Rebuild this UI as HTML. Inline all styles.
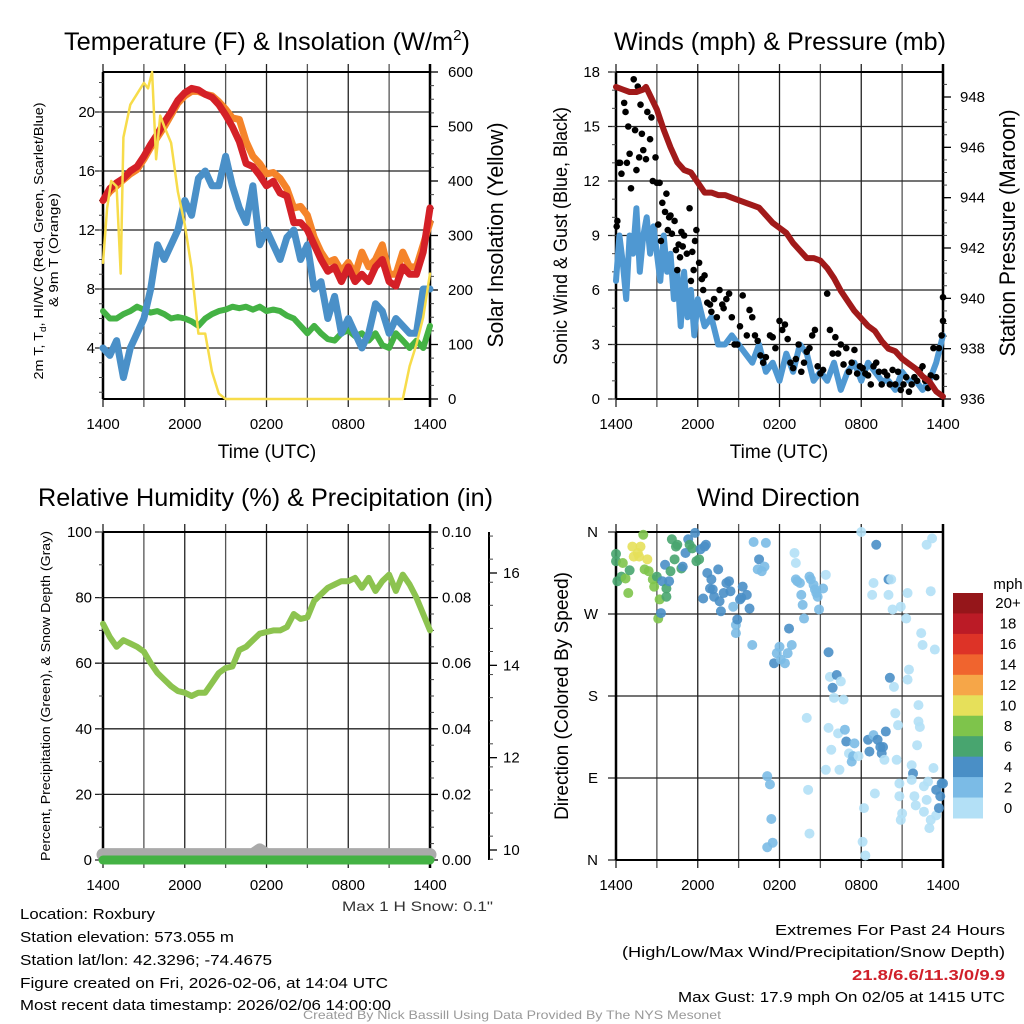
<!DOCTYPE html>
<html><head><meta charset="utf-8"><style>
html,body{margin:0;padding:0;background:#fff;}
svg{display:block;font-family:"Liberation Sans",Arial,sans-serif;}
</style></head><body>
<svg id="fig" width="1024" height="1024" viewBox="0 0 1024 1024" xmlns="http://www.w3.org/2000/svg">
<rect width="1024" height="1024" fill="#fff"/>
<g id="static" fill="#000">
<text x="64" y="50" font-size="25" textLength="406" lengthAdjust="spacingAndGlyphs">Temperature (F) &amp; Insolation (W/m<tspan font-size="15" dy="-10">2</tspan><tspan dy="10">)</tspan></text>
<text x="614" y="50" font-size="25" textLength="332" lengthAdjust="spacingAndGlyphs">Winds (mph) &amp; Pressure (mb)</text>
<text x="38" y="506" font-size="25" textLength="455" lengthAdjust="spacingAndGlyphs">Relative Humidity (%) &amp; Precipitation (in)</text>
<text x="697" y="506" font-size="25" textLength="163" lengthAdjust="spacingAndGlyphs">Wind Direction</text>

<text x="267" y="458" font-size="19" text-anchor="middle">Time (UTC)</text>
<text x="779" y="458" font-size="19" text-anchor="middle">Time (UTC)</text>

<text transform="translate(43,241) rotate(-90)" font-size="13" text-anchor="middle" textLength="277" lengthAdjust="spacingAndGlyphs">2m T, T<tspan font-size="9" dy="3">d</tspan><tspan dy="-3">, HI/WC (Red, Green, Scarlet/Blue)</tspan></text>
<text transform="translate(58,250) rotate(-90)" font-size="13" text-anchor="middle" textLength="114" lengthAdjust="spacingAndGlyphs">&amp; 9m T (Orange)</text>
<text transform="translate(503,235) rotate(-90)" font-size="22" text-anchor="middle" textLength="225" lengthAdjust="spacingAndGlyphs">Solar Insolation (Yellow)</text>
<text transform="translate(567,236) rotate(-90)" font-size="19" text-anchor="middle" textLength="258" lengthAdjust="spacingAndGlyphs">Sonic Wind &amp; Gust (Blue, Black)</text>
<text transform="translate(1015,233) rotate(-90)" font-size="22" text-anchor="middle" textLength="247" lengthAdjust="spacingAndGlyphs">Station Pressure (Maroon)</text>
<text transform="translate(50,696) rotate(-90)" font-size="13" text-anchor="middle" textLength="330" lengthAdjust="spacingAndGlyphs">Percent, Precipitation (Green), &amp; Snow Depth (Gray)</text>
<text transform="translate(568,696) rotate(-90)" font-size="19" text-anchor="middle" textLength="248" lengthAdjust="spacingAndGlyphs">Direction (Colored By Speed)</text>

<text x="342" y="911" font-size="14" fill="#333" textLength="151" lengthAdjust="spacingAndGlyphs">Max 1 H Snow: 0.1"</text>
<text x="20" y="919" font-size="15" textLength="135" lengthAdjust="spacingAndGlyphs">Location: Roxbury</text>
<text x="20" y="942" font-size="15" textLength="214" lengthAdjust="spacingAndGlyphs">Station elevation: 573.055 m</text>
<text x="20" y="965" font-size="15" textLength="252" lengthAdjust="spacingAndGlyphs">Station lat/lon: 42.3296; -74.4675</text>
<text x="20" y="988" font-size="15" textLength="368" lengthAdjust="spacingAndGlyphs">Figure created on Fri, 2026-02-06, at 14:04 UTC</text>
<text x="20" y="1010" font-size="15" textLength="371" lengthAdjust="spacingAndGlyphs">Most recent data timestamp: 2026/02/06 14:00:00</text>
<text x="775" y="935" font-size="15" textLength="230" lengthAdjust="spacingAndGlyphs">Extremes For Past 24 Hours</text>
<text x="622" y="957" font-size="15" textLength="383" lengthAdjust="spacingAndGlyphs">(High/Low/Max Wind/Precipitation/Snow Depth)</text>
<text x="852" y="980" font-size="15" font-weight="bold" fill="#d0202a" textLength="153" lengthAdjust="spacingAndGlyphs">21.8/6.6/11.3/0/9.9</text>
<text x="678" y="1002" font-size="15" textLength="327" lengthAdjust="spacingAndGlyphs">Max Gust: 17.9 mph On 02/05 at 1415 UTC</text>
<text x="303" y="1019" font-size="12" fill="#999" textLength="418" lengthAdjust="spacingAndGlyphs">Created By Nick Bassill Using Data Provided By The NYS Mesonet</text>
</g>
</svg>
<script>
// ---------- data ----------
const xTickLabels = ["1400","2000","0200","0800","1400"];
const xTickHours = [0,6,12,18,24];
const tempHours = [0,0.5,1,1.5,2,2.5,3,3.5,4,4.5,5,5.5,6,6.5,7,7.5,8,8.5,9,9.5,10,10.5,11,11.5,12,12.5,13,13.5,14,14.5,15,15.5,16,16.5,17,17.5,18,18.5,19,19.5,20,20.5,21,21.5,22,22.5,23,23.5,24];
const tempRed = [14,14.8,15.2,15.5,16,16.3,17,17.8,18.5,19.3,20,20.8,21.3,21.6,21.5,21.2,21,20.5,19.8,19,18,16.5,16.3,15.7,15,15.3,14.5,14.3,12.5,12.5,12,11,10,9.2,9.5,8.5,9.5,8.5,9,8.5,9.5,10,8.5,8.2,9.5,9,9,10.5,13.5];
const tempOrange = [14,14.6,15,15.4,15.8,16.1,16.8,17.6,18.3,19,19.8,20.6,21.1,21.4,21.4,21.2,21.1,20.7,20.2,19.6,19.5,18,17,16.5,15.8,15.9,15.5,14.8,13.5,13.6,13,11.5,10.5,9.8,10,9.2,9.8,9,10.5,9.5,10,11,9,9,10.5,9.5,9.5,11,12.5];
const dewBlue = [4,3.5,4.5,2,4,5,6,8,11,10,11,12,14,13,15.5,16,15,15,17,15,13.5,12.5,15,11,12,11,10,11.5,12,10,11,8,8.5,6,7.5,5,6,5,4,5,7,6.5,5,6,5.5,5,5,8,8];
const dewGreen = [6.5,6,6,6.3,6.5,6.8,6.6,6.4,6.5,6.3,6,6.1,6,5.8,5.5,6,6.3,6.5,6.6,6.8,6.7,6.8,6.6,6.8,6.5,6.6,6.5,6.2,6,5.5,5,5.5,5,4.6,4.5,5,5.2,4.8,5,4.5,5,4.2,4,5,4.5,4,4.5,4,5.5];
const solarHours = [0,0.3,0.6,1,1.3,1.5,2,2.5,3,3.3,3.6,3.9,4.2,4.5,5,5.5,6,6.5,7,7.5,8,8.5,9,22,22.5,23,23.5,24];
const solarVals = [250,350,400,390,230,480,540,560,580,570,600,440,520,500,470,380,320,240,120,120,50,10,0,0,60,100,150,230];
const windHours = [0,0.25,0.5,0.75,1,1.25,1.5,1.75,2,2.25,2.5,2.75,3,3.25,3.5,3.75,4,4.25,4.5,4.75,5,5.25,5.5,5.75,6,6.5,7,7.5,8,8.5,9,9.5,10,10.5,11,11.5,12,12.5,13,13.5,14,14.5,15,15.5,16,16.5,17,17.5,18,18.5,19,19.5,20,20.5,21,21.5,22,22.5,23,23.5,24];
const windVals = [6.5,9,7.5,5.5,9,8,10.5,7,9,10,8,9.5,8,6.5,9,7,8,5.5,7,4,7,4.5,6,3.5,5.5,4,4.5,3,3,3.5,3,2.5,2,3,1.5,2,1,2.5,1.5,3,2.5,1,1.5,1,2,0.5,1.5,2,1,2,1.5,1,1,0.5,1.5,1,1,0.5,1,2,3.5];
const gustHours = [0.05,0.1,0.2,0.3,0.4,0.6,0.7,0.8,0.9,1.0,1.1,1.3,1.4,1.5,1.6,1.7,1.8,1.9,2.0,2.2,2.3,2.5,2.6,2.7,2.9,3.0,3.1,3.2,3.3,3.4,3.6,3.7,3.8,3.9,4.0,4.1,4.3,4.4,4.5,4.6,4.7,4.8,4.9,5.0,5.2,5.4,5.5,5.6,5.7,5.8,5.9,6.1,6.3,6.4,6.5,6.7,6.9,7.0,7.2,7.4,7.6,7.8,7.9,8.1,8.3,8.5,8.7,8.9,9.1,9.3,9.6,9.8,10,10.2,10.4,10.6,10.8,11,11.3,11.5,11.7,12,12.2,12.4,12.6,12.8,13,13.2,13.4,13.6,13.8,14,14.2,14.4,14.6,14.8,15,15.2,15.5,15.7,15.9,16.1,16.3,16.5,16.7,16.9,17.1,17.3,17.5,17.7,17.9,18.1,18.3,18.5,18.7,18.9,19.1,19.3,19.5,19.7,19.9,20.1,20.3,20.5,20.7,20.9,21.1,21.3,21.5,21.7,21.9,22.1,22.3,22.5,22.7,22.9,23.1,23.3,23.5,23.7,23.9,24,24];
const gustVals = [9.5,9.8,13,13,12.4,16.3,15.8,13,15,13.5,11.6,17.6,14.8,12.6,17.2,13.3,16.2,14.6,13.7,13.2,15.8,14.3,15.5,12,13.3,11.9,9.6,11.9,8.7,10.8,10.3,11.3,9.3,10,10.1,9.1,9.8,8.2,7.1,8.5,7.8,9.2,8.4,9,8,10.5,6.5,8.1,7.1,8.7,9.3,7.5,6.6,6,6.8,5.3,5.2,4.8,5.5,4.5,6,5.2,5,5.5,5.8,4.5,3,3,4,5.7,3.5,4.9,4.5,3.5,3.2,2.4,2,2.3,3.5,3.4,2.8,4.3,3.8,4.1,3.3,2,1.7,2.2,3,1.5,2,2.6,2.8,3.5,3.8,1.8,1.4,1.6,5.8,3.8,2.5,3.4,2.5,3,1.9,2.8,1.5,2,2.7,1.4,1.8,1.7,1.4,1.3,0.8,1.8,2,1.5,0.8,1.5,1.3,0.8,1.6,0.8,1.5,0.5,0.8,1.2,0.4,0.8,1.2,1.0,1.6,1.8,1,0.6,1.3,2.8,1.2,2.8,3.5,5.6,4.3];
const pressHours = [0,0.5,1,1.5,2,2.2,3,3.5,4,4.5,5,5.5,6,6.5,7,7.5,8,8.5,9,9.5,10,10.5,11,11.5,12,12.5,13,13.5,14,14.5,15,15.5,16,16.5,17,17.5,18,18.5,19,19.5,20,20.5,21,21.5,22,22.5,23,23.5,24];
const pressVals = [948.4,948.3,948.2,948.2,948.3,948.4,947.5,946.7,946,945.4,945.1,945.0,944.6,944.2,944.2,944.1,944.1,944,943.9,943.8,943.7,943.6,943.3,943,942.8,942.6,942.2,941.9,941.6,941.6,941.5,941.2,940.8,940.3,939.9,939.5,939.2,938.9,938.7,938.3,938,937.9,937.6,937.4,937.2,936.9,936.7,936.3,936.1];
const rhHours = tempHours;
const rhVals = [72,68,65,67,66,65,63.5,60,57,55,53,51.5,51,50,51,51,54,57,58.5,59,64,65,67,69,69.5,70,70,71,75,73.5,74,79,81,83,84,85,85,86,83,86,82,85,87,82,87,84,80,75,70];
const precipHours = [0,24];
const precipVals = [0,0];
const snowHours = [0,11,11.5,12,24];
const snowVals = [9.9,9.9,10.0,9.9,9.9];
const dirHours = [0,0,0.1,0.4,0.5,0.7,0.9,1,1.2,1.3,1.6,1.8,1.7,2,2.1,2.3,2.4,2.7,2.8,3,3.2,3.1,3.3,3.4,3.6,3.7,3.7,3.9,4,4.1,4.3,4.4,4.5,4.8,4.9,5.1,5.3,5.4,5.6,5.8,5.9,6.1,6.2,6.5,6.6,6.7,7,6.4,6.9,7.1,7.2,7.5,7.6,7.7,7.9,8.1,8.3,8.4,8.6,8.8,8.9,8.8,9.1,9.2,9.3,9.6,9.8,10,10.1,10.4,10.5,10.7,10.9,11,11.1,11.3,11.4,11.5,11.1,11.6,11.8,12,12.1,12.4,12.6,12.7,12.9,13.1,13.2,13.2,13.3,13.5,13.6,13.7,13.8,14,14.1,14.2,14.2,14.3,14.5,14.6,14.7,14.8,14.9,15.2,15.4,15.6,15.7,15.9,16,16.2,16.5,16.7,15.6,15.8,15.4,16.3,16.4,16.8,16.9,17.1,17.3,17.4,17.5,17.8,18,18.1,18.2,18.3,18.5,18.6,18.9,19,19.1,19.2,19.4,19.5,19.6,19.8,19.7,18.9,18.8,20,20.2,20,20.3,20.1,20.4,20.5,20.6,20.7,20.8,20.8,20.9,21,20.9,21.3,21.4,21.4,21.5,21.7,21.8,21.7,21.9,22,22.2,22.3,22.1,22.2,22.4,22.5,22.6,22.8,22.6,22.9,23,23.1,22.8,23.2,23.1,23.3,23.4,23.5,23.5,23.7,23.8,23.9,24];
const dirVals = [336,328,306,311,326,309,293,318,344,333,337,344,333,357,319,330,317,308,300,311,286,265,271,306,324,298,289,306,317,352,330,344,346,320,322,337,352,346,342,359,328,330,341,344,346,315,308,287,298,297,289,319,284,273,293,304,306,295,278,258,264,249,286,288,300,291,276,236,349,319,330,317,322,348,92,83,45,19,14,216,227,234,220,216,227,254,236,337,326,308,306,304,291,280,265,156,77,29,311,308,302,297,293,289,275,298,313,228,201,189,178,203,196,176,145,121,99,139,99,143,130,117,108,114,128,114,360,20,57,5,132,119,137,73,346,132,124,117,124,141,110,304,291,308,308,291,275,200,190,161,110,148,84,70,44,51,278,265,293,198,209,104,95,88,70,60,152,146,126,170,249,236,81,66,53,86,35,44,346,353,295,101,231,49,77,57,70,84,84];
const dirSpeeds = [6,6,6,7,8,8,8,6,10,10,10,10,10,8,8,10,8,8,8,6,8,8,4,4,4,6,6,4,6,6,6,6,6,6,4,4,4,6,6,4,6,6,4,4,4,4,4,4,4,4,4,4,4,4,4,4,4,4,2,2,4,2,4,4,4,4,4,2,2,2,4,2,2,2,2,2,2,2,2,4,2,2,2,2,2,4,2,1,1,2,2,2,2,2,2,1,1,1,2,2,2,2,2,2,2,2,1,4,1,4,1,4,1,1,1,1,1,1,1,2,4,1,2,2,2,1,1,1,1,1,4,4,2,1,4,4,4,4,4,4,1,1,1,4,1,1,1,4,1,1,1,1,1,1,1,1,1,1,1,1,1,1,4,1,1,1,1,1,1,1,1,1,1,1,1,1,1,1,1,1,1,1,1,1,4,4,4,4,4,4];
const cbarLabels = ["20+","18","16","14","12","10","8","6","4","2","0"];
const cbarColors = ["#95161a","#bb1b26","#dd3327","#f0642e","#f6a648","#e6e05a","#7ec44b","#48a56f","#4a8fc6","#7bbbe6","#b3e0f6"];
const tempTicks = [4,8,12,16,20];
const solarTicks = [0,100,200,300,400,500,600];
const windTicks = [0,3,6,9,12,15,18];
const pressTicks = [936,938,940,942,944,946,948];
const rhTicks = [0,20,40,60,80,100];
const precipTicks = ["0.00","0.02","0.04","0.06","0.08","0.10"];
const snowTicks = [10,12,14,16];
const dirTicks = [0,90,180,270,360];
const dirTickLabels = ["N","E","S","W","N"];

// ---------- drawing ----------
const NS="http://www.w3.org/2000/svg";
const svg=document.getElementById('fig');
function mk(tag,attrs,parent){const e=document.createElementNS(NS,tag);for(const k in attrs)e.setAttribute(k,attrs[k]);(parent||svg).appendChild(e);return e;}
function lin(d0,d1,r0,r1){return v=>r0+(v-d0)*(r1-r0)/(d1-d0);}

const P1={x0:103,x1:430,y0:72,y1:399};
const P2={x0:616,x1:943,y0:72,y1:399};
const P3={x0:103,x1:430,y0:532,y1:860};
const P4={x0:616,x1:943,y0:532,y1:860};

function panelGrid(P,name,hVals,yf,labels,lx){
  const g=mk('g',{});
  
  
  const xf=lin(0,24,P.x0,P.x1);
  for(let h=0;h<=24;h+=3){
    const ln=mk('line',{x1:xf(h),x2:xf(h),y1:P.y0-8,y2:P.y1+8,stroke:(h%6?'#555':'#222'),'stroke-width':1.3},g);
    
    
  }
  xTickHours.forEach((h,i)=>{
    const t=mk('text',{x:xf(h),y:P.y1+30,'font-size':15,'text-anchor':'middle'},g);
    
    
    t.textContent=xTickLabels[i];
  });
  hVals.forEach((v,i)=>{
    const y=yf(v);
    const ln=mk('line',{x1:P.x0-8,x2:P.x1,y1:y,y2:y,stroke:'#222','stroke-width':1.3},g);
    
    
    const t=mk('text',{x:lx,y:y+5,'font-size':15,'text-anchor':'end'},g);
    
    
    t.textContent=labels[i];
  });
  mk('line',{x1:P.x0,x2:P.x1,y1:P.y0,y2:P.y0,stroke:'#000','stroke-width':2},g);
  mk('line',{x1:P.x0,x2:P.x1,y1:P.y1,y2:P.y1,stroke:'#000','stroke-width':2},g);
  mk('line',{x1:P.x0,x2:P.x0,y1:P.y0,y2:P.y1,stroke:'#000','stroke-width':2.5},g);
  mk('line',{x1:P.x1,x2:P.x1,y1:P.y0-8,y2:P.y1+8,stroke:'#000','stroke-width':2.5},g);
  return xf;
}
function rightAxis(P,name,vals,labels,yf,ax,lx,minorStep,min,max){
  const g=mk('g',{});
  
  
  for(let v=min;v<=max+1e-9;v+=minorStep){mk('line',{x1:ax,x2:ax+4,y1:yf(v),y2:yf(v),stroke:'#444','stroke-width':1},g);}
  vals.forEach((v,i)=>{
    mk('line',{x1:ax,x2:ax+8,y1:yf(v),y2:yf(v),stroke:'#000','stroke-width':1.3},g);
    const t=mk('text',{x:lx,y:yf(v)+5,'font-size':15},g);
    
    
    t.textContent=labels[i];
  });
}
function leftMinor(P,yf,step,min,max){
  for(let v=min;v<=max+1e-9;v+=step){mk('line',{x1:P.x0-4,x2:P.x0,y1:yf(v),y2:yf(v),stroke:'#444','stroke-width':1});}
}
function poly(xs,ys,xf,yf,color,w,name,opacity){
  const pts=xs.map((x,i)=>xf(x).toFixed(1)+','+yf(ys[i]).toFixed(1)).join(' ');
  const p=mk('polyline',{points:pts,fill:'none',stroke:color,'stroke-width':w,'stroke-linejoin':'round','stroke-linecap':'round'});
  if(opacity)p.setAttribute('opacity',opacity);
  
  
  return p;
}

// Panel 1
const t1y=lin(0,20,407,112);
const sol=lin(0,600,399,72);
const x1f=panelGrid(P1,'temp',tempTicks,t1y,tempTicks.map(String),95);
leftMinor(P1,t1y,1,1,22);
rightAxis(P1,'solar-axis',solarTicks,solarTicks.map(String),sol,430,448,25,0,600);
poly(tempHours,dewGreen,x1f,t1y,'#44b244',6,'dewpoint-green-line');
poly(tempHours,dewBlue,x1f,t1y,'#4a90c8',7,'windchill-blue-line');
poly(tempHours,tempOrange,x1f,t1y,'#f5842a',7,'temp-9m-orange-line');
poly(tempHours,tempRed,x1f,t1y,'#d42027',7,'temp-2m-red-line');
poly(solarHours,solarVals,x1f,sol,'#f7dc4a',2.5,'solar-yellow-line');

// Panel 2
const w2y=lin(0,18,399,72);
const p2y=lin(936,948,399,97);
const x2f=panelGrid(P2,'wind',windTicks,w2y,windTicks.map(String),600);
leftMinor(P2,w2y,1,0,18);
rightAxis(P2,'pressure-axis',pressTicks,pressTicks.map(String),p2y,943,960,0.5,936,948.9);
poly(windHours,windVals,x2f,w2y,'#4f98d2',6,'sonic-wind-blue-line');
gustHours.forEach((h,i)=>{
  const c=mk('circle',{cx:x2f(h),cy:w2y(gustVals[i]),r:3.3,fill:'#000'});
  
  
});
poly(pressHours,pressVals,x2f,p2y,'#a11a1a',6,'pressure-maroon-line');

// Panel 3
const r3y=lin(0,100,860,532);
const pr3y=lin(0,0.1,860,532);
const s3y=lin(10,16,850,573);
const x3f=panelGrid(P3,'rh',rhTicks,r3y,rhTicks.map(String),92);
leftMinor(P3,r3y,10,0,100);
rightAxis(P3,'precip-axis',[0,0.02,0.04,0.06,0.08,0.10],precipTicks,pr3y,430,442,0.005,0,0.1);
mk('line',{x1:489,x2:489,y1:532,y2:860,stroke:'#000','stroke-width':2});
rightAxis(P3,'snow-axis',snowTicks,snowTicks.map(String),s3y,489,503,0.5,9.8,16.8);
poly(snowHours,snowVals,x3f,s3y,'#aaaaaa',13,'snow-depth-gray-line');
poly(precipHours,precipVals,x3f,pr3y,'#44b244',9,'precip-green-line');
poly(rhHours,rhVals,x3f,r3y,'#8cc34f',6,'rh-green-line');

// Panel 4
const d4y=lin(0,360,860,532);
const x4f=panelGrid(P4,'wdir',dirTicks,d4y,dirTickLabels,598);
dirHours.forEach((h,i)=>{
  const bin=Math.min(10,Math.floor(dirSpeeds[i]/2));
  const c=mk('circle',{cx:x4f(h),cy:d4y(dirVals[i]),r:5,fill:cbarColors[10-bin],opacity:0.9});
  
  
});
// colorbar
const cb=mk('g',{});


const cbT=mk('text',{x:1008,y:589,'font-size':15,'text-anchor':'middle'},cb);


cbT.textContent='mph';
const cbh=(818-593)/cbarColors.length;
cbarColors.forEach((col,i)=>{
  const r=mk('rect',{x:953,y:593+i*cbh,width:30,height:cbh+0.5,fill:col},cb);
  
  
  const t=mk('text',{x:1008,y:593+i*cbh+cbh/2+5,'font-size':15,'text-anchor':'middle'},cb);
  
  
  t.textContent=cbarLabels[i];
});
</script>
</body></html>
